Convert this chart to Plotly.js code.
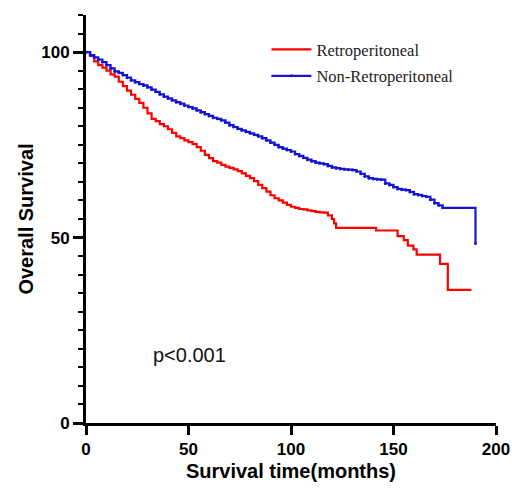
<!DOCTYPE html>
<html>
<head>
<meta charset="utf-8">
<script src="https://cdn.plot.ly/plotly-3.0.1.min.js"></script>
<style>html,body{margin:0;padding:0;background:#fff;}#chart{width:512px;height:492px;}</style>
</head>
<body>
<div id="chart"></div>
<script>
// Retroperitoneal (red) Kaplan-Meier estimates
var retroTime = [0,2,4,6,8,10,12,14,16,18,20,22,24,26,28,30,32,34,36,38,40,42,44,46,48,50,52,54,56,58,60,62,64,66,68,70,72,74,76,78,80,82,84,86,88,90,92,94,96,98,100,102,104,106,108,110,112,114,116,118,120,121,122,141.5,152,155,157,159.7,161.3,172.7,176.5,188];
var retroSurv = [100,99,97.5,96.5,95.8,95,94,93.4,92,90.8,89.6,88.5,87.4,86.3,85,83.5,82,81.4,80.6,80,79.2,78.2,77.3,76.8,76.2,75.7,75.2,74.4,73.4,72.3,71.4,70.6,70.2,69.6,69.1,68.8,68.4,67.9,67.3,66.6,66,65.2,64.2,63.3,62.4,61.4,60.6,60,59.4,58.8,58.3,58,57.7,57.6,57.3,57.1,56.9,56.8,56.7,56,55,53.8,52.6,51.9,50.4,49.3,47.8,46.8,45.4,42.9,35.9,35.9];

// Non-Retroperitoneal (blue)
var nonTime = [0,2,4,6,8,10,12,14,16,18,20,22,24,26,28,30,32,34,36,38,40,42,44,46,48,50,52,54,56,58,60,62,64,66,68,70,72,74,76,78,80,82,84,86,88,90,92,94,96,98,100,102,104,106,108,110,112,114,116,118,120,122,124,126,128,130,132,134,136,138,140,142,144,146,148,150,152,154,156,158,160,162,164,166,168,170,172,174,190];
var nonSurv = [100,99.2,98.6,98,97.3,96.5,95.6,94.8,94.4,93.8,93.1,92.4,91.9,91.4,91,90.5,89.9,89.3,88.6,88,87.5,87,86.5,86.1,85.6,85.2,84.8,84.3,83.8,83.3,82.8,82.3,82,81.6,81,80.3,79.8,79.3,78.9,78.5,78.1,77.7,77.3,76.8,76.2,75.6,75,74.4,74,73.6,73.2,72.5,72,71.5,71,70.6,70.2,70,69.8,69.3,68.9,68.7,68.5,68.4,68.3,68.2,67.8,67.2,66.5,66,65.8,65.7,65.6,64.6,64.2,63.6,63.1,62.9,62.8,62.3,61.7,61.5,61.2,61,60.2,59.3,58.7,58,48.4];

var groupNames = ["Retroperitoneal", "Non-Retroperitoneal"];
var xTicks = [0,50,100,150,200];
var yTicks = [0,50,100];
var pLabel = "p<0.001";

var traces = [
  {x: retroTime, y: retroSurv, name: groupNames[0], type: "scatter", mode: "lines",
   line: {color: "#ff0000", width: 2.2, shape: "hv"}, legendgroup: "a"},
  {x: nonTime, y: nonSurv, name: groupNames[1], type: "scatter", mode: "lines+markers",
   line: {color: "#1414d4", width: 2.2, shape: "hv"}, marker: {size: 3, color: "#1414d4"}, legendgroup: "b"}
];

var axisFont = {family: "Arial, Liberation Sans, sans-serif", size: 17, color: "#000", weight: "bold"};
var titleFont = {family: "Arial, Liberation Sans, sans-serif", size: 20, color: "#000", weight: "bold"};
var layout = {
  width: 512, height: 492,
  margin: {l: 86, r: 16, t: 15, b: 69},
  paper_bgcolor: "#fff", plot_bgcolor: "#fff",
  showlegend: true,
  legend: {x: 0.44, y: 0.958, xanchor: "left", yanchor: "top", bgcolor: "rgba(0,0,0,0)",
    font: {family: "Liberation Serif, Times New Roman, serif", size: 16.5, color: "#222"},
    tracegroupgap: 2, traceorder: "grouped", itemwidth: 40},
  xaxis: {range: [0, 200], tickvals: xTicks, ticktext: xTicks.map(String),
    showline: true, linecolor: "#000", linewidth: 3, ticks: "outside", ticklen: 9, tickwidth: 3, tickcolor: "#000",
    showgrid: false, zeroline: false, tickfont: axisFont,
    title: {text: "Survival time(months)", font: titleFont, standoff: 6}},
  yaxis: {range: [0, 110], tickvals: yTicks, ticktext: yTicks.map(String),
    showline: true, linecolor: "#000", linewidth: 3, ticks: "outside", ticklen: 10, tickwidth: 3, tickcolor: "#000",
    minor: {dtick: 5, ticks: "outside", ticklen: 5, tickwidth: 2, tickcolor: "#000", showgrid: false},
    showgrid: false, zeroline: false, tickfont: axisFont,
    title: {text: "Overall Survival", font: titleFont, standoff: 3}},
  annotations: [{x: 50.7, y: 18.4, xref: "x", yref: "y", text: pLabel, showarrow: false,
    font: {family: "Arial, Liberation Sans, sans-serif", size: 20, color: "#111"}}]
};

Plotly.newPlot("chart", traces, layout, {displayModeBar: false, staticPlot: true});
</script>
</body>
</html>
